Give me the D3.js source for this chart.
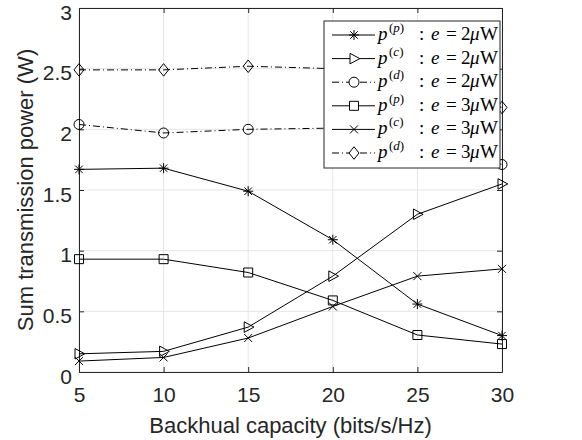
<!DOCTYPE html>
<html>
<head>
<meta charset="utf-8">
<script src="https://cdn.jsdelivr.net/npm/d3@7"></script>
<style>
  body { margin: 0; background: #fff; }
  svg { display: block; }
</style>
</head>
<body>
<svg id="chart" width="582" height="440"></svg>
<script>
// data
var capacity = [5, 10, 15, 20, 25, 30];
var pp2 = [1.67, 1.68, 1.49, 1.09, 0.56, 0.30];
var pc2 = [0.15, 0.17, 0.37, 0.79, 1.30, 1.55];
var pd2 = [2.04, 1.97, 2.00, 2.01, 1.90, 1.71];
var pp3 = [0.93, 0.93, 0.82, 0.59, 0.305, 0.23];
var pc3 = [0.09, 0.12, 0.28, 0.54, 0.79, 0.85];
var pd3 = [2.49, 2.49, 2.52, 2.50, 2.36, 2.18];
var xTicks = [5, 10, 15, 20, 25, 30];
var yTicks = [0, 0.5, 1, 1.5, 2, 2.5, 3];

var series = [
  {vals: pp2, marker: 'star',     dash: null, sup: 'p', e: '2'},
  {vals: pc2, marker: 'triangle', dash: null, sup: 'c', e: '2'},
  {vals: pd2, marker: 'circle',   dash: '7,3,1,3', sup: 'd', e: '2'},
  {vals: pp3, marker: 'square',   dash: null, sup: 'p', e: '3'},
  {vals: pc3, marker: 'cross',    dash: null, sup: 'c', e: '3'},
  {vals: pd3, marker: 'diamond',  dash: '7,3,1,3', sup: 'd', e: '3'}
];

var margin = {top: 8, right: 80, bottom: 68, left: 79};
var svg = d3.select('#chart');
var W = 582 - margin.left - margin.right;
var H = 440 - margin.top - margin.bottom;
var g = svg.append('g').attr('transform', 'translate(' + margin.left + ',' + margin.top + ')');

var x = d3.scaleLinear().domain([5, 30]).range([0, W]);
var y = d3.scaleLinear().domain([0, 3]).range([H, 0]);

var textColor = '#262626';
var sans = '"Liberation Sans", Arial, sans-serif';

// grid
g.selectAll('.vgrid').data(xTicks).enter().append('line')
  .attr('x1', function(d){ return x(d); }).attr('x2', function(d){ return x(d); })
  .attr('y1', 0).attr('y2', H)
  .attr('stroke', '#e5e5e5').attr('stroke-width', 1);
g.selectAll('.hgrid').data(yTicks).enter().append('line')
  .attr('y1', function(d){ return y(d); }).attr('y2', function(d){ return y(d); })
  .attr('x1', 0).attr('x2', W)
  .attr('stroke', '#e5e5e5').attr('stroke-width', 1);

// axes
g.append('g').attr('transform', 'translate(0,' + H + ')')
  .call(d3.axisBottom(x).tickValues(xTicks).tickSizeInner(-5).tickSizeOuter(0).tickPadding(15));
var yAx = g.append('g')
  .call(d3.axisLeft(y).tickValues(yTicks).tickSizeInner(-5).tickSizeOuter(0).tickPadding(7)
    .tickFormat(function(d){ return d3.format('')(d); }));
yAx.selectAll('.tick text').attr('dy', '0.53em');
g.append('g').call(d3.axisTop(x).tickValues(xTicks).tickSizeInner(-5).tickSizeOuter(0).tickFormat(''));
g.append('g').attr('transform', 'translate(' + W + ',0)')
  .call(d3.axisRight(y).tickValues(yTicks).tickSizeInner(-5).tickSizeOuter(0).tickFormat(''));

svg.selectAll('.domain').attr('stroke', textColor).attr('stroke-width', 1);
svg.selectAll('.tick line').attr('stroke', textColor);
svg.selectAll('.tick text')
  .attr('fill', textColor)
  .style('font-family', sans)
  .style('font-size', '21px');

// labels
svg.append('text')
  .attr('x', margin.left + W / 2).attr('y', 433)
  .attr('text-anchor', 'middle').attr('fill', textColor)
  .style('font-family', sans).style('font-size', '22px')
  .text('Backhual capacity (bits/s/Hz)');
svg.append('text')
  .attr('transform', 'translate(33,' + (margin.top + H / 2) + ') rotate(-90)')
  .attr('text-anchor', 'middle').attr('fill', textColor)
  .style('font-family', sans).style('font-size', '22px')
  .text('Sum transmission power (W)');

// markers
function markerPath(type) {
  var s = 5;
  var p = d3.path();
  if (type === 'star') {
    p.moveTo(-s, 0); p.lineTo(s, 0);
    p.moveTo(0, -s); p.lineTo(0, s);
    p.moveTo(-s * 0.75, -s * 0.75); p.lineTo(s * 0.75, s * 0.75);
    p.moveTo(-s * 0.75, s * 0.75); p.lineTo(s * 0.75, -s * 0.75);
  } else if (type === 'triangle') {
    p.moveTo(-s * 0.8, -s * 1.05); p.lineTo(s * 1.15, 0); p.lineTo(-s * 0.8, s * 1.05); p.closePath();
  } else if (type === 'circle') {
    p.arc(0, 0, s, 0, 2 * Math.PI); p.closePath();
  } else if (type === 'square') {
    p.rect(-s * 0.9, -s * 0.9, s * 1.8, s * 1.8);
  } else if (type === 'cross') {
    p.moveTo(-s * 0.8, -s * 0.8); p.lineTo(s * 0.8, s * 0.8);
    p.moveTo(-s * 0.8, s * 0.8); p.lineTo(s * 0.8, -s * 0.8);
  } else if (type === 'diamond') {
    p.moveTo(0, -s * 1.25); p.lineTo(s, 0); p.lineTo(0, s * 1.25); p.lineTo(-s, 0); p.closePath();
  }
  return p.toString();
}

var line = d3.line()
  .x(function(d, i){ return x(capacity[i]); })
  .y(function(d){ return y(d); });

series.forEach(function(s) {
  g.append('path').datum(s.vals)
    .attr('d', line)
    .attr('fill', 'none').attr('stroke', '#000').attr('stroke-width', 1)
    .attr('stroke-dasharray', s.dash);
  g.selectAll(null).data(s.vals).enter().append('path')
    .attr('transform', function(d, i){ return 'translate(' + x(capacity[i]) + ',' + y(d) + ')'; })
    .attr('d', markerPath(s.marker))
    .attr('fill', 'none').attr('stroke', '#000').attr('stroke-width', 1);
});

// legend
var lg = svg.append('g').attr('transform', 'translate(324,21)');
lg.append('rect').attr('width', 176).attr('height', 147)
  .attr('fill', '#fff').attr('stroke', textColor).attr('stroke-width', 1);

var serif = '"Liberation Serif", "DejaVu Serif", serif';
series.forEach(function(s, i) {
  var ly = 14 + i * 23.6;
  lg.append('line').attr('x1', 8).attr('x2', 51).attr('y1', ly).attr('y2', ly)
    .attr('stroke', '#000').attr('stroke-width', 1).attr('stroke-dasharray', s.dash);
  lg.append('path').attr('transform', 'translate(30,' + ly + ')')
    .attr('d', markerPath(s.marker)).attr('fill', '#fff').attr('stroke', '#000').attr('stroke-width', 1);
  var t = lg.append('text').attr('y', ly + 5)
    .attr('fill', '#000')
    .style('font-family', serif).style('font-size', '19px');
  t.append('tspan').attr('x', 54).style('font-style', 'italic').text('p');
  t.append('tspan').attr('x', 65).attr('dy', -8).style('font-size', '13px').text('(');
  t.append('tspan').style('font-size', '13px').style('font-style', 'italic').text(s.sup);
  t.append('tspan').style('font-size', '13px').text(')');
  t.append('tspan').attr('x', 95).attr('dy', 8).text(':');
  t.append('tspan').attr('x', 107).style('font-style', 'italic').text('e');
  t.append('tspan').attr('x', 122).text('=');
  t.append('tspan').attr('x', 137).text(s.e);
  t.append('tspan').attr('x', 146).style('font-style', 'italic').text('\u03BC');
  t.append('tspan').attr('x', 156).text('W');
});
</script>
</body>
</html>
